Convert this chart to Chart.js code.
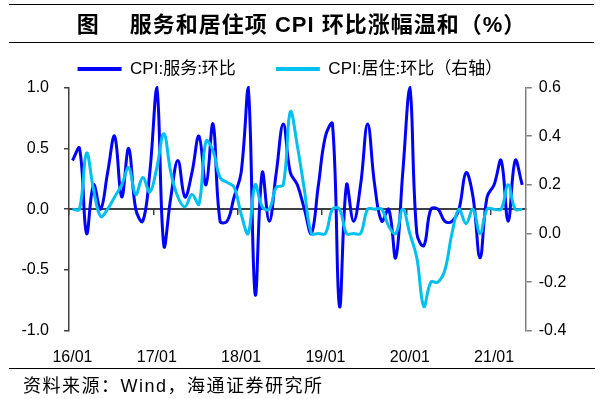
<!DOCTYPE html>
<html>
<head>
<meta charset="utf-8">
<script src="https://cdn.jsdelivr.net/npm/chart.js@4.4.0/dist/chart.umd.min.js"></script>
<style>
body { margin: 0; background: #fff; }
#quadro { position: relative; width: 603px; height: 399px; overflow: hidden; font-family: "Liberation Sans", "Noto Sans CJK SC", sans-serif; }
#caixaGrafico { position: absolute; left: 0; top: 0; width: 603px; height: 384px; }
#titulo { position: absolute; left: 9px; width: 585px; top: 4px; height: 37px; border-top: 1.5px solid #000; border-bottom: 1.5px solid #000; text-align: center; font-weight: bold; font-size: 22px; line-height: 40px; letter-spacing: 1px; color: #000; }
#fonte { position: absolute; left: 9px; width: 586px; top: 368px; border-top: 1.5px solid #000; font-size: 18px; line-height: 34px; letter-spacing: 1.5px; padding-left: 14px; box-sizing: border-box; color: #000; }
</style>
</head>
<body>
<div id="quadro">
    <div id="caixaGrafico"><canvas id="chartCpi"></canvas></div>
    <div id="titulo">图　 服务和居住项 CPI 环比涨幅温和（%）</div>
    <div id="fonte">资料来源：Wind，海通证券研究所</div>
</div>
<script>
const ANO_INICIAL = 2016;
const TOTAL_MESES = 65;

// CPI:服务:环比 (eixo esquerdo)
const servicos = [
    0.4, 0.5, -0.2, 0.2, 0.0, 0.3, 0.6, 0.1, 0.5, 0.0, -0.1, 0.3,
    1.0, -0.3, 0.1, 0.4, 0.1, 0.3, 0.6, 0.2, 0.7, -0.1, -0.1, 0.1,
    0.3, 1.0, -0.7, 0.3, -0.1, 0.3, 0.7, 0.3, 0.2, 0.0, -0.2, 0.2,
    0.6, 0.7, -0.8, 0.2, -0.1, 0.2, 0.7, 0.2, -0.1, 0.0, -0.4, 0.3,
    1.0, -0.2, -0.3, 0.0, 0.0, -0.1, -0.1, 0.0, 0.3, 0.1, -0.4, 0.1,
    0.2, 0.4, -0.1, 0.4, 0.2
];

// CPI:居住:环比 (eixo direito)
const moradia = [
    0.1, 0.1, 0.33, 0.18, 0.07, 0.1, 0.15, 0.2, 0.27, 0.16, 0.23, 0.17,
    0.27, 0.41, 0.25, 0.15, 0.11, 0.16, 0.12, 0.38, 0.34, 0.23, 0.21, 0.19,
    0.08, 0.0, 0.2, 0.11, 0.1, 0.19, 0.2, 0.5, 0.36, 0.18, 0.0, 0.0,
    0.0, 0.1, 0.1, 0.0, 0.0, 0.0, 0.1, 0.1, 0.1, 0.03, 0.0, 0.1,
    0.0, -0.1, -0.3, -0.2, -0.2, -0.15, 0.0, 0.1, 0.04, 0.1, 0.0, 0.1,
    0.1, 0.1, 0.2, 0.1, 0.1
];

const legendas = ['CPI:服务:环比', 'CPI:居住:环比（右轴）'];
const cores = ['#0000FF', '#00C0F0'];

const meses = [];
for (let i = 0; i < TOTAL_MESES; i++) {
    const ano = ANO_INICIAL + Math.floor(i / 12);
    const mes = (i % 12) + 1;
    meses.push(String(ano).slice(2) + '/' + (mes < 10 ? '0' : '') + mes);
}

function formatarTick(value) {
    if (Math.abs(value) < 1e-9) return '0.0';
    return Number(value).toFixed(1);
}

Chart.defaults.font.family = '"Liberation Sans", "Noto Sans CJK SC", sans-serif';
Chart.defaults.color = '#000';

new Chart(document.getElementById('chartCpi'), {
    type: 'line',
    data: {
        labels: meses,
        datasets: [{
            label: legendas[0],
            data: servicos,
            borderColor: cores[0],
            backgroundColor: cores[0],
            borderWidth: 3,
            pointRadius: 0,
            tension: 0.4,
            yAxisID: 'y',
            order: 1,
            clip: false
        }, {
            label: legendas[1],
            data: moradia,
            borderColor: cores[1],
            backgroundColor: cores[1],
            borderWidth: 3,
            pointRadius: 0,
            tension: 0.4,
            yAxisID: 'y1',
            order: 0,
            clip: false
        }]
    },
    options: {
        responsive: true,
        maintainAspectRatio: false,
        animation: false,
        layout: {
            padding: { top: 20.5, left: 6.4, right: 29.7, bottom: 0 }
        },
        scales: {
            x: {
                type: 'category',
                position: 'bottom',
                offset: true,
                grid: { display: false, drawTicks: false },
                border: { display: false },
                ticks: {
                    autoSkip: false,
                    maxRotation: 0,
                    padding: 17,
                    font: { size: 16 },
                    callback: function (value, index) {
                        return index % 12 === 0 ? meses[index] : '';
                    }
                }
            },
            // linha do zero com as marcas de janeiro
            xZero: {
                type: 'category',
                position: { y: 0 },
                offset: true,
                ticks: { display: false },
                grid: {
                    drawOnChartArea: false,
                    offset: true,
                    tickLength: 5,
                    lineWidth: 1.5,
                    color: (ctx) => (ctx.index % 12 === 0 ? '#404040' : 'rgba(0,0,0,0)')
                },
                border: { display: true, color: '#404040', width: 2 }
            },
            y: {
                position: 'left',
                min: -1,
                max: 1,
                ticks: {
                    stepSize: 0.5,
                    padding: 15,
                    font: { size: 16 },
                    callback: formatarTick
                },
                grid: { drawOnChartArea: false, tickLength: 5, color: '#404040', lineWidth: 1.5 },
                border: { color: '#404040', width: 1.5 }
            },
            y1: {
                position: 'right',
                min: -0.4,
                max: 0.6,
                ticks: {
                    stepSize: 0.2,
                    padding: 7,
                    font: { size: 16 },
                    callback: formatarTick
                },
                grid: { drawOnChartArea: false, tickLength: 6, color: '#808080', lineWidth: 1.5 },
                border: { color: '#808080', width: 1.5 }
            }
        },
        plugins: {
            title: { display: false },
            tooltip: { enabled: false },
            legend: {
                position: 'top',
                labels: {
                    boxWidth: 44,
                    boxHeight: 4,
                    padding: 40,
                    font: { size: 17 },
                    sort: (a, b) => a.datasetIndex - b.datasetIndex,
                    generateLabels: (chart) => chart.data.datasets.map((ds, i) => ({
                        text: ds.label,
                        fillStyle: ds.borderColor,
                        strokeStyle: ds.borderColor,
                        lineWidth: 0,
                        hidden: false,
                        datasetIndex: i
                    }))
                }
            }
        }
    }
});
</script>
</body>
</html>
